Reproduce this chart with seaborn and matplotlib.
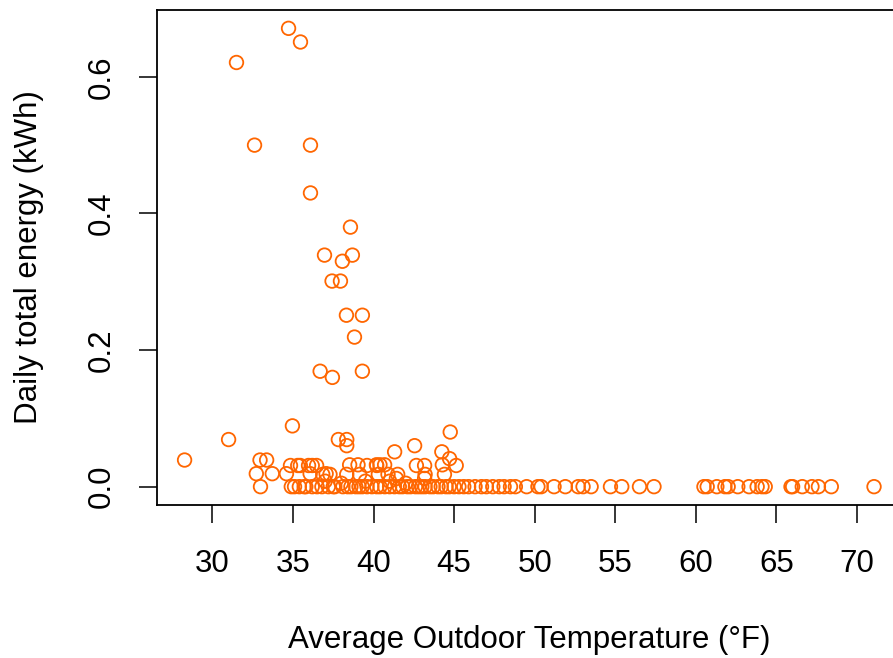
import matplotlib
matplotlib.use("Agg")
import matplotlib.pyplot as plt
import seaborn as sns
import numpy as np
import pandas as pd

# Points with non-zero daily energy
temp_nonzero = [34.73, 35.47, 31.50, 32.62, 36.09, 36.09, 38.57, 36.96, 38.69, 38.07,
                37.43, 37.95, 38.32, 39.31, 38.82, 36.69, 37.45, 39.31,
                34.97, 31.01, 28.28, 37.82, 38.34, 38.34,
                32.96, 33.37, 32.73, 33.72, 34.60,
                34.85, 35.46, 35.97, 36.47, 36.07, 37.06,
                41.31, 42.55, 44.76, 44.24, 44.72, 44.27, 45.13, 42.66, 43.17, 43.17,
                38.52, 39.04, 40.18, 40.69, 41.42,
                36.85, 37.30, 38.34, 39.14, 40.30, 40.90, 41.50, 40.40, 43.20, 44.40,
                37.00, 38.00, 39.50, 41.00, 42.00, 35.30, 36.20, 39.60, 40.20]
energy_nonzero = [0.671, 0.651, 0.621, 0.500, 0.500, 0.430, 0.380, 0.339, 0.339, 0.330,
                  0.301, 0.301, 0.251, 0.251, 0.219, 0.169, 0.160, 0.169,
                  0.089, 0.069, 0.039, 0.069, 0.069, 0.060,
                  0.039, 0.039, 0.019, 0.019, 0.019,
                  0.031, 0.031, 0.031, 0.031, 0.019, 0.019,
                  0.051, 0.060, 0.080, 0.051, 0.041, 0.032, 0.031, 0.031, 0.031, 0.012,
                  0.032, 0.032, 0.032, 0.032, 0.012,
                  0.018, 0.018, 0.018, 0.018, 0.018, 0.018, 0.018, 0.032, 0.018, 0.018,
                  0.008, 0.005, 0.008, 0.008, 0.005, 0.031, 0.031, 0.031, 0.031]

# Points with zero daily energy
temp_zero = [32.99, 34.90, 35.10, 35.40, 35.70, 35.80, 36.20, 36.50, 36.80, 37.20,
             37.50, 37.60, 38.10, 38.40, 38.60, 38.90, 39.10, 39.30, 39.60, 39.90,
             40.20, 40.40, 40.70, 41.00, 41.30, 41.60, 41.80, 42.10, 42.30, 42.60,
             42.80, 43.00, 43.20, 43.50, 43.70, 44.00, 44.20, 44.50, 44.70, 45.00,
             45.30, 45.60, 45.90, 46.30, 46.70, 47.00, 47.40, 47.80, 48.10, 48.50,
             48.80, 49.50, 50.20, 50.40, 51.20, 51.90, 52.70, 53.00, 53.50, 54.70,
             55.40, 56.50, 57.40, 60.50, 60.70, 61.30, 61.80, 62.00, 62.60, 63.30,
             63.80, 64.10, 64.30, 65.90, 66.00, 66.60, 67.20, 67.60, 68.40, 71.05]
energy_zero = [0.0] * len(temp_zero)

x_ticks = [30, 35, 40, 45, 50, 55, 60, 65, 70]
y_ticks = [0.0, 0.2, 0.4, 0.6]
y_tick_labels = ["0.0", "0.2", "0.4", "0.6"]

df = pd.DataFrame({
    "temp": temp_nonzero + temp_zero,
    "energy": energy_nonzero + energy_zero,
})

sns.set_style("ticks")
plt.rcParams["font.family"] = ["Liberation Sans", "DejaVu Sans"]
plt.rcParams["text.color"] = "black"
plt.rcParams["axes.labelcolor"] = "black"

orange = "#FF6600"
fig = plt.figure(figsize=(8.93, 6.58), dpi=100)
ax = fig.add_axes([157 / 893, 1 - 505 / 658, (901.6 - 157) / 893, (505 - 10) / 658])

sns.scatterplot(data=df, x="temp", y="energy", ax=ax, marker="o", s=95,
                facecolor="none", edgecolor=orange, linewidth=1.3, legend=False)

xmin, xmax = min(df.temp), max(df.temp)
xr = xmax - xmin
ax.set_xlim(xmin - 0.04 * xr, xmax + 0.04 * xr)
ymax = max(df.energy)
ax.set_ylim(-0.04 * ymax, ymax * 1.04)

ax.set_xticks(x_ticks)
ax.set_xticklabels([str(t) for t in x_ticks])
ax.set_yticks(y_ticks)
ax.set_yticklabels(y_tick_labels, rotation=90, va="center")

for sp in ax.spines.values():
    sp.set_visible(True)
    sp.set_linewidth(1.3)
    sp.set_color("black")

ax.tick_params(axis="both", direction="out", length=13, width=1.1, labelsize=22.5,
               colors="black")
ax.tick_params(axis="x", pad=19)
ax.tick_params(axis="y", pad=16)
ax.set_xlabel("Average Outdoor Temperature (°F)", fontsize=22.5, labelpad=33, color="black")
ax.set_ylabel("Daily total energy (kWh)", fontsize=22.5, labelpad=31, color="black")

fig.savefig("out.png", dpi=100)
